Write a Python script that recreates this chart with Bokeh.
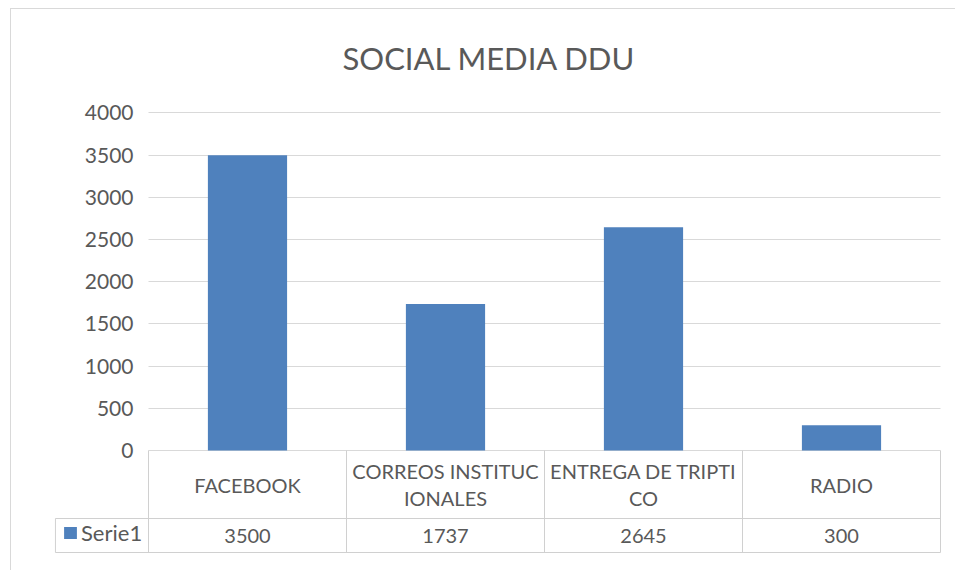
from bokeh.plotting import figure
from bokeh.models import Range1d, FixedTicker, ColumnDataSource, Legend, LegendItem
from bokeh.core.properties import value
from bokeh.embed import file_html
from bokeh.resources import INLINE

# ---- data ----
title_text = "SOCIAL MEDIA DDU"
categories = ["FACEBOOK", "CORREOS INSTITUCIONALES", "ENTREGA DE TRIPTICO", "RADIO"]
header_labels = ["FACEBOOK", "CORREOS INSTITUC\nIONALES", "ENTREGA DE TRIPTI\nCO", "RADIO"]
series_name = "Serie1"
values = [3500, 1737, 2645, 300]
y_ticks = [0, 500, 1000, 1500, 2000, 2500, 3000, 3500, 4000]

# ---- style ----
FONT = "Lato"
TXT = "#595959"
GRID = "#d9d9d9"
LINE = "#d0d0d0"
BAR = "#4f81bd"

n = len(categories)
xc = [i + 0.5 for i in range(n)]

# table row boundaries (data units below zero)
ROW1 = -806
ROW2 = -1209

OX, OY = 11, 9  # canvas offset from page (margin + border)

p = figure(width=945, height=562, output_backend="svg", toolbar_location=None,
           x_range=Range1d(-0.4747, 4.0101), y_range=Range1d(-1220.7, 4148.1),
           min_border_left=54 - OX, min_border_right=14, min_border_top=100 - OY,
           min_border_bottom=18)
p.styles = {"margin-left": "10px", "margin-top": "8px",
            "border-left": "1px solid #d9d9d9", "border-top": "1px solid #d9d9d9"}
p.outline_line_color = None
p.background_fill_color = "white"
p.border_fill_color = "white"

p.title.text = title_text
p.title.align = "left"
p.title.offset = 288
p.title.standoff = 48
p.title.text_font = FONT
p.title.text_font_size = "31px"
p.title.text_font_style = "normal"
p.title.text_color = TXT

p.xaxis.visible = False
p.xgrid.visible = False
p.yaxis.fixed_location = 0
p.yaxis.ticker = FixedTicker(ticks=y_ticks)
p.yaxis.axis_line_color = None
p.yaxis.major_tick_line_color = None
p.yaxis.minor_tick_line_color = None
p.yaxis.major_label_standoff = 9
p.yaxis.major_label_text_font = FONT
p.yaxis.major_label_text_font_size = "21px"
p.yaxis.major_label_text_color = TXT
p.ygrid.ticker = FixedTicker(ticks=y_ticks)
p.ygrid.grid_line_color = GRID
p.ygrid.cross_bounds = (0, n)

src = ColumnDataSource(dict(x=xc, top=values, cat=categories, head=header_labels,
                            val=[str(v) for v in values]))

bars = p.vbar(x="x", top="top", width=0.4, bottom=0, source=src,
              fill_color=BAR, line_color=None)

# table grid lines
xs = list(range(n + 1))
p.segment(x0=xs, x1=xs, y0=[0] * len(xs), y1=[ROW2] * len(xs), line_color=LINE, line_width=1)
p.segment(x0=[-0.47, -0.47], x1=[n, n], y0=[ROW1, ROW2], y1=[ROW1, ROW2],
          line_color=LINE, line_width=1)
p.segment(x0=[-0.47], x1=[-0.47], y0=[ROW1], y1=[ROW2], line_color=LINE, line_width=1)

# header labels
p.text(x="x", y=ROW1 / 2, text="head", source=src, text_align="center",
       text_baseline="middle", text_font=value(FONT), text_font_size="20px",
       text_color=TXT, text_line_height=1.12)
# values
p.text(x="x", y=(ROW1 + ROW2) / 2, text="val", source=src, text_align="center",
       text_baseline="middle", text_font=value(FONT), text_font_size="20px",
       text_color=TXT)

legend = Legend(items=[LegendItem(label=series_name, renderers=[bars])],
                location=(8, 7), orientation="vertical")
legend.border_line_color = None
legend.background_fill_alpha = 0
legend.padding = 5
legend.margin = 0
legend.glyph_width = 16
legend.glyph_height = 15
legend.label_standoff = 3
legend.label_text_font = FONT
legend.label_text_font_size = "22px"
legend.label_text_color = TXT
p.add_layout(legend, "center")

open("out.html", "w").write(file_html(p, INLINE))
